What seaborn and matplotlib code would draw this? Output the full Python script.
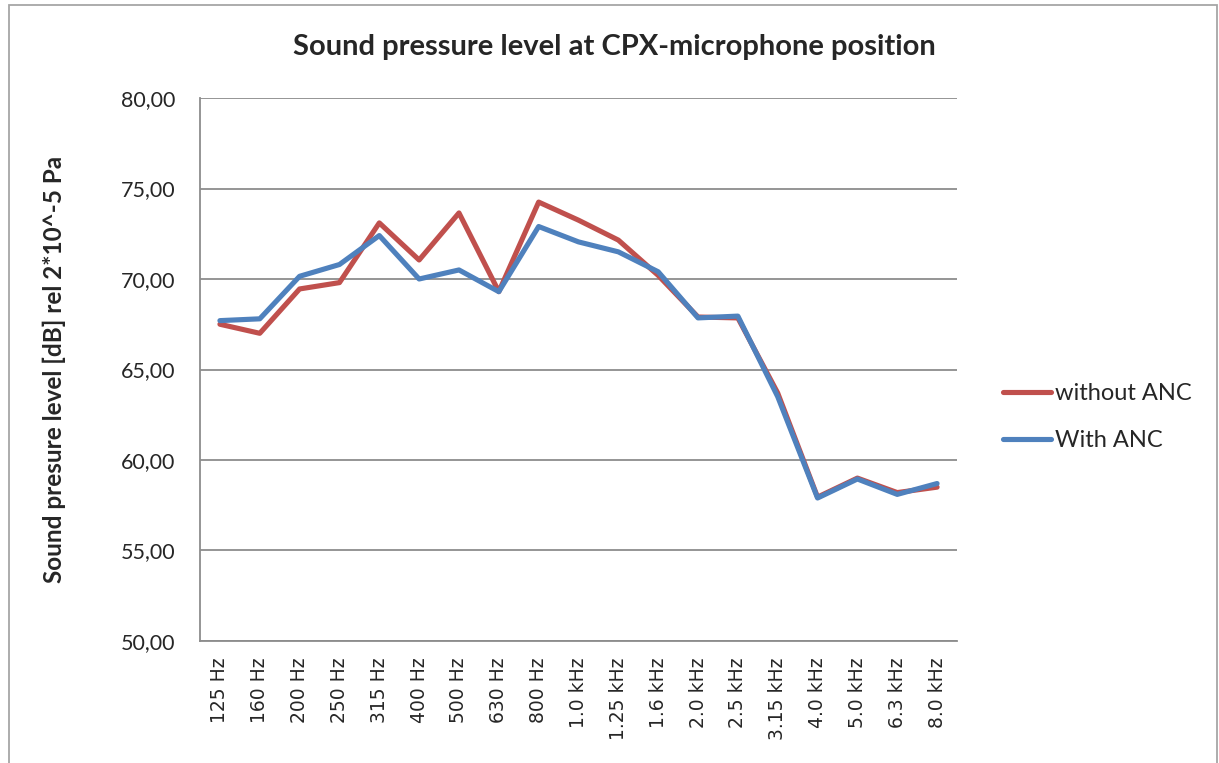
import matplotlib
matplotlib.use("Agg")
import matplotlib.pyplot as plt
import seaborn as sns
import pandas as pd
from matplotlib.patches import Rectangle
from matplotlib.ticker import FuncFormatter

# third-octave bands
bands = ["125 Hz", "160 Hz", "200 Hz", "250 Hz", "315 Hz", "400 Hz", "500 Hz",
         "630 Hz", "800 Hz", "1.0 kHz", "1.25 kHz", "1.6 kHz", "2.0 kHz",
         "2.5 kHz", "3.15 kHz", "4.0 kHz", "5.0 kHz", "6.3 kHz", "8.0 kHz"]

without_anc = [67.5, 67.0, 69.45, 69.8, 73.1, 71.05, 73.65, 69.3, 74.25, 73.25,
               72.15, 70.2, 67.9, 67.85, 63.7, 57.95, 59.0, 58.2, 58.5]
with_anc = [67.7, 67.8, 70.15, 70.8, 72.4, 70.0, 70.5, 69.3, 72.9, 72.05,
            71.5, 70.4, 67.85, 67.95, 63.5, 57.9, 58.95, 58.1, 58.7]

series_names = ["without ANC", "With ANC"]
palette = {"without ANC": "#C0504D", "With ANC": "#4F81BD"}

df = pd.DataFrame({
    "band": bands * 2,
    "level": without_anc + with_anc,
    "series": [series_names[0]] * len(bands) + [series_names[1]] * len(bands),
})
df["x"] = [i for i in range(len(bands))] * 2

sns.set_style("white")
plt.rcParams["font.family"] = ["Lato", "DejaVu Sans"]

fig = plt.figure(figsize=(12.19, 7.63), dpi=100)
ax = fig.add_axes([200 / 1219, 1 - 641 / 763, 757 / 1219, 543 / 763])

sns.lineplot(data=df, x="x", y="level", hue="series", palette=palette,
             linewidth=3.7, sort=False, ax=ax, legend=True)

ax.set_xlim(-0.5, len(bands) - 0.5)
ax.set_ylim(50, 80)
ax.set_yticks(range(50, 81, 5))
ax.yaxis.set_major_formatter(FuncFormatter(lambda v, p: f"{v:.2f}".replace(".", ",")))
ax.set_xticks(range(len(bands)))
ax.set_xticklabels(bands, rotation=90, family="DejaVu Sans", fontsize=13.5)
ax.tick_params(axis="y", labelsize=15.5, length=0, pad=18)
ax.tick_params(axis="x", length=0, pad=12)
ax.grid(axis="y", color="#8C8C8C", linewidth=1.3)
ax.set_axisbelow(True)
for side in ["top", "right"]:
    ax.spines[side].set_visible(False)
for side in ["left", "bottom"]:
    ax.spines[side].set_color("#8C8C8C")
    ax.spines[side].set_linewidth(1.3)

ax.set_xlabel("")
ax.set_ylabel("Sound presure level [dB] rel 2*10^-5 Pa", fontsize=17.5,
              fontweight="bold")
ax.yaxis.set_label_coords(-134 / 757, 0.5)

fig.text(614 / 1219, 1 - 47 / 763, "Sound pressure level at CPX-microphone position",
         ha="center", va="center", fontsize=21, fontweight="bold")

handles, labels = ax.get_legend_handles_labels()
ax.legend(handles, labels, loc="center left", bbox_to_anchor=(994 / 1219, 1 - 417 / 763),
          bbox_transform=fig.transFigure, frameon=False, fontsize=17,
          handlelength=2.0, handletextpad=0.2, labelspacing=1.1, borderaxespad=0)

# chart border
fig.patches.append(Rectangle((9 / 1219, -0.05), 1208 / 1219, 1.05 - 5 / 763,
                             transform=fig.transFigure, fill=False,
                             edgecolor="#A6A6A6", linewidth=1.3))

fig.savefig("out.png", dpi=100)
